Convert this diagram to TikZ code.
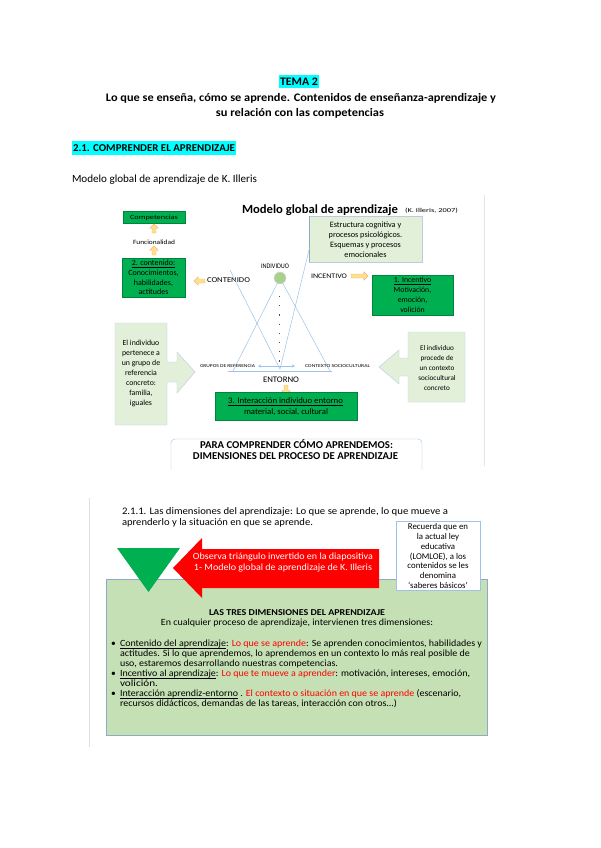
\documentclass[tikz,border=0pt]{standalone}
\usepackage{fontspec}
\setmainfont{Carlito}
\usetikzlibrary{arrows.meta,shapes.arrows}
\definecolor{hl}{HTML}{00FFFF}
\definecolor{dg}{HTML}{00B050}
\definecolor{lg}{HTML}{E2F0D9}
\definecolor{bg}{HTML}{C5E0B4}
\definecolor{ya}{HTML}{FFE08A}
\definecolor{yb}{HTML}{F4B183}
\definecolor{bl}{HTML}{9DC3E6}
\definecolor{bd}{HTML}{8FA9C8}
\definecolor{rd}{HTML}{FF0000}
\definecolor{cg}{HTML}{A9D18E}
\newcommand\myfs[2]{\fontsize{#1}{#2}\selectfont}
\newcommand\fw[2]{\resizebox{#1pt}{\height}{#2}}
\newcommand\ulx[1]{\underline{\smash{#1}}\vphantom{#1}}
\tikzset{
  dgbox/.style={draw=dg!75!black, fill=dg, line width=0.4pt, align=center},
  lgbox/.style={fill=lg, draw=bd!60, line width=0.4pt},
  bline/.style={draw=bl, line width=0.5pt},
  yarr/.style={single arrow, draw=yb, fill=ya, line width=0.4pt, inner sep=1.8pt,
    single arrow head extend=2.2pt, minimum height=#1},
  bul/.style={anchor=base west, font=\myfs{9.5}{10}},
}
\begin{document}
\begin{tikzpicture}[x=1pt,y=-1pt, every node/.style={inner sep=0pt, outer sep=0pt}]
\useasboundingbox (0,0) rectangle (600,848);
\fill[white] (0,0) rectangle (600,848);

% ---------- header ----------
\fill[hl] (279,75) rectangle (319,88);
\node[anchor=base, font=\bfseries\myfs{11.5}{13}] (tema) at (299,85.5) {\fw{38}{TEMA 2}};
\node[anchor=base, font=\bfseries\myfs{11.5}{13}] (t1) at (301,102) {\fw{390}{Lo que se enseña, cómo se aprende. Contenidos de enseñanza-aprendizaje y}};
\node[anchor=base, font=\bfseries\myfs{11.5}{13}] (t2) at (300,117) {\fw{168}{su relación con las competencias}};
\fill[hl] (72,141) rectangle (236,155);
\node[anchor=base west, font=\bfseries\myfs{10.5}{12}] (sec) at (73,151.8) {\fw{162}{2.1. COMPRENDER EL APRENDIZAJE}};
\node[anchor=base west, font=\myfs{11}{12}] (mod) at (72,182.8) {\fw{185}{Modelo global de aprendizaje de K. Illeris}};

% ---------- slide ----------
\draw[gray!20, line width=1pt] (484,195) -- (484,466);

\node[font=\bfseries\myfs{12.5}{14}] (mtitle) at (320,210) {\fw{156}{Modelo global de aprendizaje}};
\node[anchor=west, font=\myfs{6}{6}] (cite) at (405,211) {\fw{53}{(K. Illeris, 2007)}};

\node[dgbox, minimum width=62, minimum height=12, font=\myfs{6.5}{7}] (comp) at (154,217.5) {\fw{48}{Competencias}};
\node[yarr=9pt, shape border rotate=90] (a1) at (154,229.5) {};
\node[font=\myfs{6.5}{7}] (func) at (154,242) {\fw{42}{Funcionalidad}};
\node[yarr=9pt, shape border rotate=90] (a2) at (154,251.5) {};
\node[dgbox, minimum width=63, minimum height=39, font=\myfs{8}{9.8}] (cont) at (153.5,277.5)
  {\ulx{2. contenido:}\\Conocimientos,\\habilidades,\\actitudes};
\node[yarr=11pt, shape border rotate=180] (a3) at (200.5,281) {};
\node[anchor=west, font=\myfs{7.5}{8}] (contl) at (207,280.5) {\fw{43}{CONTENIDO}};

\node[lgbox, minimum width=113, minimum height=46] (estr) at (365.5,239) {};
\draw[bd, line width=0.6pt] (estr.north west) -- (estr.south west);
\node[align=center, font=\myfs{8.2}{10}] (estrt) at (365.5,239.5)
  {Estructura cognitiva y\\procesos psicológicos.\\Esquemas y procesos\\emocionales};

% triangles
\coordinate (i1) at (230,270);
\coordinate (i2) at (310,246);
\coordinate (i3) at (280,369);
\coordinate (u1) at (233,371);
\coordinate (u2) at (330,371);
\coordinate (b1) at (228,371);
\coordinate (b2) at (332,371);
\draw[bline] (i1) -- (i3) -- (i2);
\draw[bline] (b1) -- (b2);
\node[circle, fill=cg, draw=gray!30, minimum size=12] (ind) at (280,278) {};
\draw[bline] (ind) -- (u1);
\draw[bline] (ind) -- (u2);
\coordinate (d1) at (279,296);
\coordinate (d2) at (279,362);
\draw[black!70, line width=0.9pt, dash pattern=on 1.2pt off 8pt] (d1) -- (d2);
\node[font=\myfs{7}{7}] (indl) at (275,266) {\fw{28}{INDIVIDUO}};

\node[anchor=west, font=\myfs{7}{7}] (incl) at (311,276) {\fw{36}{INCENTIVO}};
\node[yarr=17pt, shape border rotate=0] (a4) at (358.5,276) {};
\node[dgbox, minimum width=81, minimum height=40, font=\myfs{7.8}{10}] (inc) at (412.5,295)
  {\ulx{1. Incentivo}\\Motivación,\\emoción,\\volición};

% callouts
\path[lgbox] (115,323) -- (167,323) -- (167,362) -- (177,362) -- (177,352) -- (195,372)
  -- (177,393) -- (177,382) -- (167,382) -- (167,425) -- (115,425) -- cycle;
\node[align=center, font=\myfs{7.8}{10}] (cl) at (141,373.5)
  {El individuo\\pertenece a\\un grupo de\\referencia\\concreto:\\familia,\\iguales};
\path[lgbox] (465,332) -- (408,332) -- (408,358) -- (399,358) -- (399,350) -- (379,367)
  -- (399,384) -- (399,376) -- (408,376) -- (408,402) -- (465,402) -- cycle;
\node[align=center, font=\myfs{7.2}{10}] (cr) at (437,368.5)
  {El individuo\\procede de\\un contexto\\sociocultural\\concreto};

\node[anchor=east, font=\myfs{4.5}{5}] (grl) at (255,366) {\fw{55}{GRUPOS DE REFERENCIA}};
\coordinate (e1) at (258,366);
\coordinate (e2) at (295,366);
\draw[bline, {Stealth[length=3pt,width=3pt]}-{Stealth[length=3pt,width=3pt]}] (e1) -- (e2);
\node[anchor=west, font=\myfs{4.5}{5}] (csl) at (305,366) {\fw{65}{CONTEXTO SOCIOCULTURAL}};

\node[font=\myfs{8.5}{9}] (ent) at (281,380) {\fw{36}{ENTORNO}};
\node[yarr=10pt, shape border rotate=270] (a5) at (286,389) {};
\node[dgbox, minimum width=142, minimum height=28] (inter) at (286,406) {};
\node[font=\myfs{8.5}{9}] (int1) at (285.5,401.5) {\fw{115}{\ulx{3. Interacción individuo entorno}}};
\node[font=\myfs{8.5}{9}] (int2) at (286,412.5) {\fw{84}{material, social, cultural}};

\draw[bl, rounded corners=4pt] (171,470) -- (171,439) -- (422,439) -- (422,470);
\node[font=\bfseries\myfs{10.5}{12}] (para1) at (296.5,444.5) {\fw{193}{PARA COMPRENDER CÓMO APRENDEMOS:}};
\node[font=\bfseries\myfs{10.5}{12}] (para2) at (295.5,456.5) {\fw{205}{DIMENSIONES DEL PROCESO DE APRENDIZAJE}};

% ---------- second part ----------
\draw[gray!25, line width=1pt] (89,498) -- (89,747);
\node[anchor=base west, font=\myfs{10}{11}] (s1) at (122,514.5) {\fw{326}{2.1.1. Las dimensiones del aprendizaje: Lo que se aprende, lo que mueve a}};
\node[anchor=base west, font=\myfs{10}{11}] (s2) at (122,525.5) {\fw{191}{aprenderlo y la situación en que se aprende.}};

\draw[bd, fill=bg, line width=0.6pt] (106,579) rectangle (487,735);
\fill[dg] (117,548) -- (180,548) -- (148.5,592) -- cycle;
\fill[rd] (173,568) -- (202,538) -- (202,549) -- (379,549) -- (379,588) -- (202,588) -- (202,598) -- cycle;
\node[text=white, font=\myfs{9.5}{11}] (obs1) at (283,557) {\fw{180}{Observa triángulo invertido en la diapositiva}};
\node[text=white, font=\myfs{9.5}{11}] (obs2) at (283,568) {\fw{178}{1- Modelo global de aprendizaje de K. Illeris}};

\node[draw=bl, fill=white, minimum width=84, minimum height=69, line width=0.6pt] (rec) at (438,555.5) {};
\node[align=center, font=\myfs{8.8}{9.9}] (rect) at (438,556)
  {Recuerda que en\\la actual ley\\educativa\\(LOMLOE), a los\\contenidos se les\\denomina\\‘saberes básicos’};

\node[font=\bfseries\myfs{9}{10}] (tres) at (297,613) {\fw{176}{LAS TRES DIMENSIONES DEL APRENDIZAJE}};
\node[font=\myfs{9.5}{10}] (encu) at (297,623.5) {\fw{272}{En cualquier proceso de aprendizaje, intervienen tres dimensiones:}};

\node[bul] (bu1) at (111,646.3) {•};
\node[bul] (bu2) at (111,676.3) {•};
\node[bul] (bu3) at (111,696.3) {•};
\node[bul] (l1) at (120,646.3) {\fw{362}{\ulx{Contenido del aprendizaje}: \textcolor{rd}{Lo que se aprende}: Se aprenden conocimientos, habilidades y}};
\node[bul] (l2) at (120,656.3) {\fw{350}{actitudes. Si lo que aprendemos, lo aprendemos en un contexto lo más real posible de}};
\node[bul] (l3) at (120,666.3) {\fw{218}{uso, estaremos desarrollando nuestras competencias.}};
\node[bul] (l4) at (120,676.3) {\fw{350}{\ulx{Incentivo al aprendizaje}: \textcolor{rd}{Lo que te mueve a aprender}: motivación, intereses, emoción,}};
\node[bul] (l5) at (120,686.3) {\fw{38}{volición.}};
\node[bul] (l6) at (120,696.3) {\fw{341}{\ulx{Interacción aprendiz-entorno} . \textcolor{rd}{El contexto o situación en que se aprende} (escenario,}};
\node[bul] (l7) at (120,706.3) {\fw{277}{recursos didácticos, demandas de las tareas, interacción con otros...)}};
\end{tikzpicture}
\end{document}
